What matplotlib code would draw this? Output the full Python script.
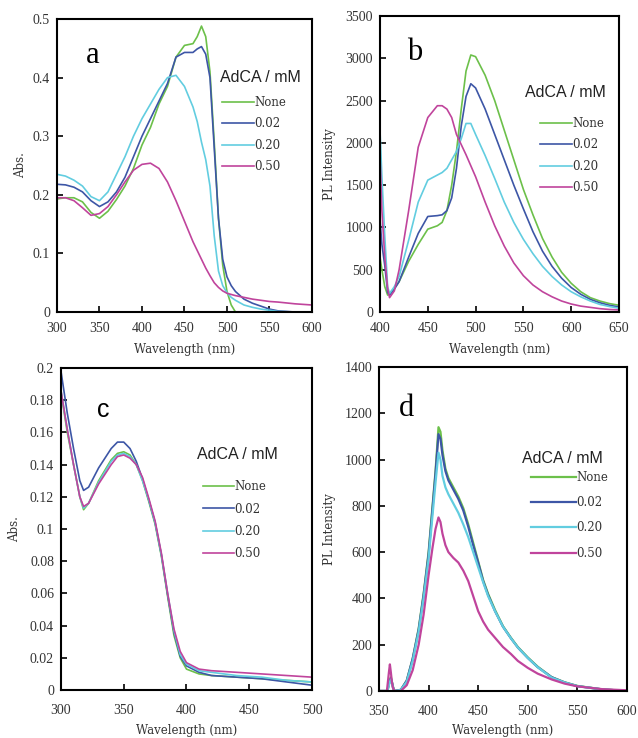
import matplotlib
matplotlib.use("Agg")
from matplotlib import pyplot as plt

# --- panel a: absorbance (300-600 nm)
a_wl = [300, 310, 320, 330, 340, 350, 360, 370, 380, 390, 400, 410, 420, 430, 440, 450,
        460, 465, 470, 475, 480, 485, 490, 495, 500, 505, 510, 520, 530, 540, 550, 560, 580, 600]
a_none = [.193, .195, .195, .188, .170, .160, .172, .192, .215, .245, .285, .315, .355, .385, .435, .455,
          .458, .47, .488, .47, .41, .29, .16, .08, .035, .012, 0, 0, 0, 0, 0, 0, 0, 0]
a_002 = [.218, .217, .213, .205, .19, .18, .188, .205, .23, .265, .30, .33, .36, .39, .435, .443,
         .443, .449, .453, .44, .40, .28, .16, .09, .06, .045, .035, .022, .015, .01, .005, .002, 0, 0]
a_020 = [.235, .232, .225, .215, .197, .19, .205, .235, .265, .30, .33, .355, .38, .40, .404, .385,
         .35, .325, .29, .26, .215, .13, .07, .045, .033, .025, .02, .012, .008, .005, .003, .001, 0, 0]
a_050 = [.195, .195, .19, .178, .165, .168, .18, .20, .222, .242, .252, .254, .245, .222, .19, .155,
         .12, .105, .09, .075, .062, .05, .042, .036, .032, .03, .028, .025, .022, .02, .018, .017, .014, .012]

# --- panel b: PL (400-650 nm)
b_wl = [400, 402, 405, 408, 410, 415, 420, 430, 440, 450, 460, 465, 470, 475, 480, 485, 490,
        495, 500, 510, 520, 530, 540, 550, 560, 570, 580, 590, 600, 610, 620, 630, 640, 650]
b_none = [650, 500, 300, 200, 220, 280, 360, 600, 800, 980, 1020, 1060, 1200, 1500, 1900, 2400, 2850,
          3040, 3020, 2800, 2500, 2150, 1800, 1450, 1150, 870, 650, 470, 340, 240, 170, 130, 100, 80]
b_002 = [1100, 800, 550, 230, 200, 270, 360, 650, 930, 1130, 1140, 1150, 1200, 1350, 1700, 2200, 2550,
         2700, 2650, 2400, 2100, 1800, 1500, 1220, 950, 720, 540, 400, 290, 210, 150, 110, 80, 60]
b_020 = [2150, 1600, 900, 300, 220, 300, 420, 850, 1300, 1560, 1620, 1650, 1700, 1800, 1900, 2050, 2230,
         2230, 2100, 1850, 1580, 1300, 1060, 860, 690, 540, 420, 320, 240, 180, 130, 90, 65, 45]
b_050 = [1850, 1200, 650, 280, 170, 250, 500, 1200, 1950, 2300, 2440, 2440, 2400, 2300, 2100, 1980, 1860,
         1730, 1600, 1300, 1020, 780, 580, 430, 320, 240, 180, 130, 95, 70, 55, 40, 30, 25]

# --- panel c: absorbance (300-500 nm)
c_wl = [300, 305, 310, 315, 318, 322, 330, 340, 345, 350, 355, 360, 365, 370, 375, 380, 385,
        390, 395, 400, 410, 420, 440, 460, 480, 500]
c_none = [.185, .16, .14, .12, .112, .116, .13, .143, .147, .148, .146, .14, .13, .117, .103, .083, .058,
          .034, .02, .013, .01, .009, .008, .007, .006, .005]
c_002 = [.198, .172, .15, .13, .124, .126, .138, .15, .154, .154, .15, .142, .131, .118, .104, .084, .059,
         .036, .021, .015, .011, .009, .008, .007, .005, .003]
c_020 = [.186, .162, .14, .12, .113, .116, .129, .142, .146, .147, .145, .14, .13, .118, .104, .084, .06,
         .037, .022, .016, .012, .011, .009, .008, .006, .005]
c_050 = [.186, .162, .14, .12, .114, .116, .128, .14, .145, .146, .144, .14, .132, .119, .105, .085, .06,
         .038, .024, .017, .013, .012, .011, .01, .009, .008]

# --- panel d: PL (350-600 nm)
d_wl = [350, 358, 359, 360, 361, 362, 363, 364, 365, 366, 372, 378, 384, 390, 395, 400, 404, 407,
        410, 412, 414, 417, 420, 425, 430, 435, 440, 445, 450, 455, 460, 467, 475, 483, 490, 500,
        510, 524, 537, 550, 575, 600]
d_none = [0, 0, 10, 30, 45, 60, 40, 20, 5, 0, 5, 45, 140, 270, 420, 600, 800, 950,
          1140, 1120, 1040, 960, 920, 880, 840, 790, 720, 640, 560, 480, 420, 350, 280, 230, 190, 145,
          105, 60, 38, 22, 7, 0]
d_002 = [0, 0, 10, 30, 45, 55, 40, 20, 5, 0, 5, 45, 140, 265, 415, 590, 790, 940,
         1110, 1090, 1020, 950, 910, 870, 830, 780, 710, 630, 555, 475, 415, 345, 278, 228, 188, 143,
         103, 60, 37, 21, 7, 0]
d_020 = [0, 0, 8, 25, 40, 50, 35, 15, 5, 0, 5, 40, 130, 255, 400, 570, 760, 900,
         1030, 1000, 930, 880, 850, 810, 770, 720, 665, 600, 535, 470, 410, 345, 278, 228, 188, 143,
         103, 58, 37, 21, 7, 0]
d_050 = [0, 0, 40, 80, 115, 80, 40, 15, 5, 0, 0, 25, 90, 200, 330, 500, 620, 700,
         750, 730, 680, 630, 600, 575, 555, 520, 475, 410, 345, 300, 265, 230, 190, 160, 130, 100,
         75, 50, 32, 20, 8, 3]

labels = ["None", "0.02", "0.20", "0.50"]
colors = ["#6cc04a", "#3d56a6", "#62cde0", "#c0449c"]

SERIF = "Liberation Serif"
LABEL = "DejaVu Serif"
SANS = "Liberation Sans"


def style_axes(ax, xlim, ylim, xticks, yticks, yfmt, xlab_y, ylab_x, xpad):
    ax.set_xlim(*xlim)
    ax.set_ylim(*ylim)
    ax.set_xticks(xticks)
    ax.set_yticks(yticks)
    ax.set_yticklabels([yfmt(v) for v in yticks])
    for s in ax.spines.values():
        s.set_linewidth(1.5)
        s.set_color("black")
    ax.tick_params(direction="in", length=4, width=1.2, color="black",
                   labelsize=10, labelcolor="#333333")
    ax.tick_params(axis="x", pad=xpad)
    ax.tick_params(axis="y", pad=5)
    for t in ax.get_xticklabels() + ax.get_yticklabels():
        t.set_fontfamily(SERIF)
    ax.set_xlabel("Wavelength (nm)", fontfamily=LABEL, fontsize=8.5, color="#333333")
    ax.xaxis.set_label_coords(0.5, xlab_y)
    ax.yaxis.set_label_coords(ylab_x, 0.5)


def add_legend(ax, title_xy, anchor, hlen, spacing):
    ax.text(title_xy[0], title_xy[1], "AdCA / mM", transform=ax.transAxes,
            fontfamily=SANS, fontsize=11.5, color="#222222", ha="left", va="center")
    leg = ax.legend(loc="upper left", bbox_to_anchor=anchor, frameon=False,
                    handlelength=hlen, handletextpad=0.05, labelspacing=spacing,
                    borderpad=0, borderaxespad=0,
                    prop={"family": LABEL, "size": 8.5})
    for t in leg.get_texts():
        t.set_color("#333333")


fig = plt.figure(figsize=(6.38, 7.38), dpi=100)
ax_a = fig.add_axes([0.0893, 0.5772, 0.3997, 0.397])
ax_b = fig.add_axes([0.5956, 0.5772, 0.3746, 0.401])
ax_c = fig.add_axes([0.0956, 0.065, 0.3934, 0.4363])
ax_d = fig.add_axes([0.594, 0.0637, 0.3887, 0.439])

for ys, c, lab in zip([a_none, a_002, a_020, a_050], colors, labels):
    ax_a.plot(a_wl, ys, color=c, lw=1.2, label=lab)
for ys, c, lab in zip([b_none, b_002, b_020, b_050], colors, labels):
    ax_b.plot(b_wl, ys, color=c, lw=1.2, label=lab)
for ys, c, lab in zip([c_none, c_002, c_020, c_050], colors, labels):
    ax_c.plot(c_wl, ys, color=c, lw=1.2, label=lab)
for ys, c, lab in zip([d_none, d_002, d_020, d_050], colors, labels):
    ax_d.plot(d_wl, ys, color=c, lw=1.6, label=lab)

style_axes(ax_a, (300, 600), (0, 0.5), range(300, 601, 50), [0, .1, .2, .3, .4, .5],
           lambda v: "0" if v == 0 else f"{v:.1f}", -0.105, -0.118, 7)
ax_a.set_ylabel("Abs.", fontfamily=LABEL, fontsize=8.5, color="#333333")

style_axes(ax_b, (400, 650), (0, 3500), range(400, 651, 50), list(range(0, 3501, 500)),
           lambda v: f"{v}", -0.105, -0.184, 7)
ax_b.set_ylabel("PL Intensity", fontfamily=LABEL, fontsize=8.5, color="#333333")

c_yt = [0, .02, .04, .06, .08, .1, .12, .14, .16, .18, .2]
style_axes(ax_c, (300, 500), (0, 0.2), range(300, 501, 50), c_yt,
           lambda v: "0" if v == 0 else f"{v:g}", -0.106, -0.159, 10)
ax_c.set_ylabel("Abs.", fontfamily=LABEL, fontsize=8.5, color="#333333")

style_axes(ax_d, (350, 600), (0, 1400), range(350, 601, 50), list(range(0, 1401, 200)),
           lambda v: f"{v}", -0.102, -0.173, 10)
ax_d.set_ylabel("PL Intensity", fontfamily=LABEL, fontsize=8.5, color="#333333")

add_legend(ax_a, (0.639, 0.802), (0.647, 0.738), 2.7, 0.72)
add_legend(ax_b, (0.607, 0.743), (0.669, 0.66), 2.7, 0.72)
add_legend(ax_c, (0.542, 0.733), (0.566, 0.651), 2.6, 0.78)
add_legend(ax_d, (0.577, 0.719), (0.613, 0.68), 3.8, 1.05)

ax_a.text(0.141, 0.877, "a", transform=ax_a.transAxes, fontfamily=SERIF, fontsize=22,
          ha="center", va="center")
ax_b.text(0.146, 0.878, "b", transform=ax_b.transAxes, fontfamily=SERIF, fontsize=22,
          ha="center", va="center")
ax_c.text(0.167, 0.87, "c", transform=ax_c.transAxes, fontfamily=SANS, fontsize=18,
          ha="center", va="center")
ax_d.text(0.109, 0.873, "d", transform=ax_d.transAxes, fontfamily=SERIF, fontsize=22,
          ha="center", va="center")

fig.savefig("out.png", dpi=100)
